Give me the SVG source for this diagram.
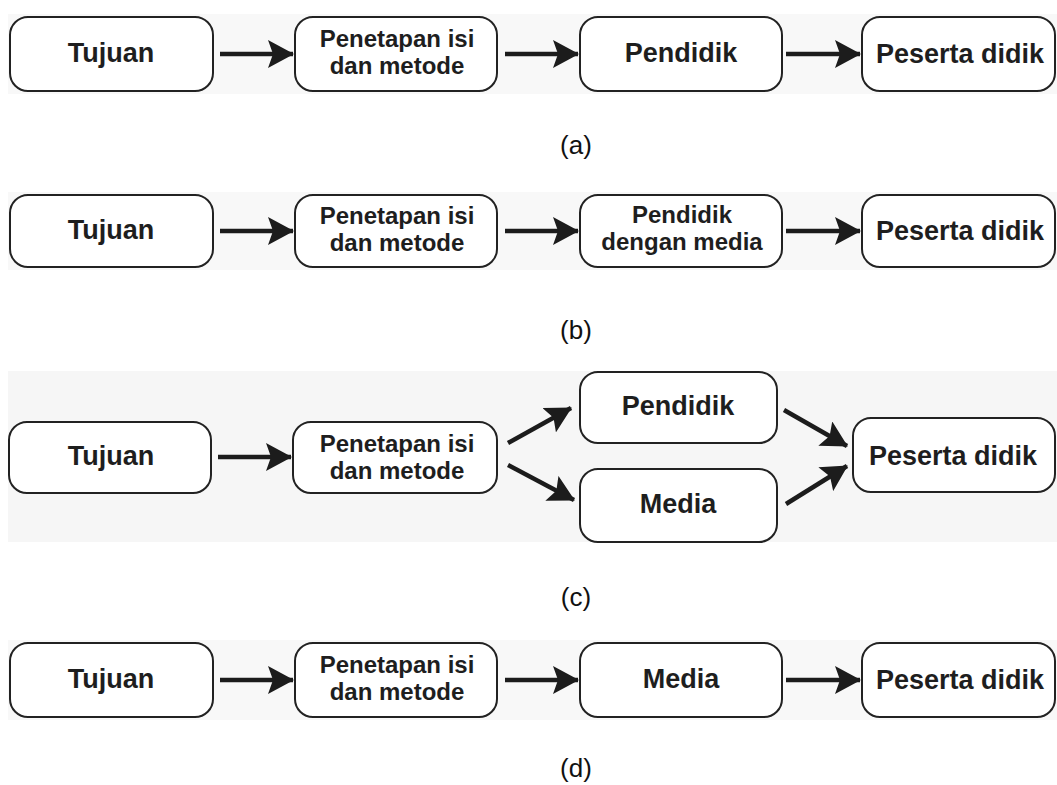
<svg xmlns="http://www.w3.org/2000/svg" width="1057" height="785" viewBox="0 0 1057 785">
  <defs>
    <marker id="head" markerUnits="userSpaceOnUse" markerWidth="26" markerHeight="28" refX="25" refY="14" orient="auto">
      <path d="M0,0 L26,14 L0,28 L5,14 Z" fill="#1c1c1c"/>
    </marker>
    <style>
      .band { fill: #f8f8f8; }
      .box { fill: #ffffff; stroke: #222222; stroke-width: 2; }
      .t1 { font-family: "Liberation Sans", Arial, sans-serif; font-weight: bold; font-size: 27px; fill: #1e1e1e; text-anchor: middle; }
      .t2 { font-family: "Liberation Sans", Arial, sans-serif; font-weight: bold; font-size: 24px; fill: #1e1e1e; text-anchor: middle; }
      .cap { font-family: "Liberation Sans", Arial, sans-serif; font-size: 26px; fill: #111111; text-anchor: middle; }
      .arrow { stroke: #1c1c1c; stroke-width: 4.5; fill: none; marker-end: url(#head); }
    </style>
  </defs>

  <rect width="1057" height="785" fill="#ffffff"/>

  <!-- row backgrounds -->
  <rect class="band" x="8" y="14" width="1049" height="80"/>
  <rect class="band" x="8" y="192" width="1049" height="78"/>
  <rect class="band" x="8" y="371" width="1049" height="171" style="fill:#f6f6f6"/>
  <rect class="band" x="8" y="640" width="1049" height="80"/>

  <!-- (a) -->
  <g id="a-tujuan"><rect class="box" x="10" y="17" width="203" height="74" rx="18"/><text class="t1" x="111" y="62">Tujuan</text></g>
  <g id="a-penetapan"><rect class="box" x="295" y="17" width="202" height="74" rx="18"/><text class="t2" x="397" y="47">Penetapan isi</text><text class="t2" x="397" y="74">dan metode</text></g>
  <g id="a-pendidik"><rect class="box" x="580" y="17" width="202" height="74" rx="18"/><text class="t1" x="681" y="62">Pendidik</text></g>
  <g id="a-peserta"><rect class="box" x="862" y="17" width="193" height="74" rx="18"/><text class="t1" x="960" y="63">Peserta didik</text></g>
  <text id="label-a" class="cap" x="576" y="154">(a)</text>

  <!-- (b) -->
  <g id="b-tujuan"><rect class="box" x="10" y="195" width="203" height="72" rx="18"/><text class="t1" x="111" y="239">Tujuan</text></g>
  <g id="b-penetapan"><rect class="box" x="295" y="195" width="202" height="72" rx="18"/><text class="t2" x="397" y="224">Penetapan isi</text><text class="t2" x="397" y="251">dan metode</text></g>
  <g id="b-pendidik-media"><rect class="box" x="580" y="195" width="202" height="72" rx="18"/><text class="t2" x="682" y="223">Pendidik</text><text class="t2" x="682" y="250">dengan media</text></g>
  <g id="b-peserta"><rect class="box" x="862" y="195" width="193" height="72" rx="18"/><text class="t1" x="960" y="240">Peserta didik</text></g>
  <text id="label-b" class="cap" x="576" y="339">(b)</text>

  <!-- (c) -->
  <g id="c-tujuan"><rect class="box" x="9" y="422" width="202" height="71" rx="18"/><text class="t1" x="111" y="465">Tujuan</text></g>
  <g id="c-penetapan"><rect class="box" x="293" y="422" width="204" height="71" rx="18"/><text class="t2" x="397" y="452">Penetapan isi</text><text class="t2" x="397" y="479">dan metode</text></g>
  <g id="c-pendidik"><rect class="box" x="580" y="372" width="197" height="71" rx="18"/><text class="t1" x="678" y="415">Pendidik</text></g>
  <g id="c-media"><rect class="box" x="580" y="469" width="197" height="73" rx="18"/><text class="t1" x="678" y="513">Media</text></g>
  <g id="c-peserta"><rect class="box" x="853" y="418" width="202" height="74" rx="18"/><text class="t1" x="953" y="465">Peserta didik</text></g>
  <text id="label-c" class="cap" x="576" y="606">(c)</text>

  <!-- (d) -->
  <g id="d-tujuan"><rect class="box" x="10" y="643" width="203" height="74" rx="18"/><text class="t1" x="111" y="688">Tujuan</text></g>
  <g id="d-penetapan"><rect class="box" x="295" y="643" width="202" height="74" rx="18"/><text class="t2" x="397" y="673">Penetapan isi</text><text class="t2" x="397" y="700">dan metode</text></g>
  <g id="d-media"><rect class="box" x="580" y="643" width="202" height="74" rx="18"/><text class="t1" x="681" y="688">Media</text></g>
  <g id="d-peserta"><rect class="box" x="862" y="643" width="193" height="74" rx="18"/><text class="t1" x="960" y="689">Peserta didik</text></g>
  <text id="label-d" class="cap" x="576" y="777">(d)</text>

  <!-- connectors -->
  <g id="connectors">
    <line class="arrow" x1="220" y1="54" x2="293" y2="54"/>
    <line class="arrow" x1="505" y1="54" x2="578" y2="54"/>
    <line class="arrow" x1="786" y1="54" x2="860" y2="54"/>

    <line class="arrow" x1="220" y1="231" x2="293" y2="231"/>
    <line class="arrow" x1="505" y1="231" x2="578" y2="231"/>
    <line class="arrow" x1="786" y1="231" x2="860" y2="231"/>

    <line class="arrow" x1="218" y1="457" x2="291" y2="457"/>
    <line class="arrow" x1="508" y1="443" x2="571" y2="408"/>
    <line class="arrow" x1="508" y1="465" x2="574" y2="500"/>
    <line class="arrow" x1="784" y1="410" x2="847" y2="446"/>
    <line class="arrow" x1="786" y1="504" x2="847" y2="466"/>

    <line class="arrow" x1="220" y1="680" x2="293" y2="680"/>
    <line class="arrow" x1="505" y1="680" x2="578" y2="680"/>
    <line class="arrow" x1="786" y1="680" x2="860" y2="680"/>
  </g>
</svg>
